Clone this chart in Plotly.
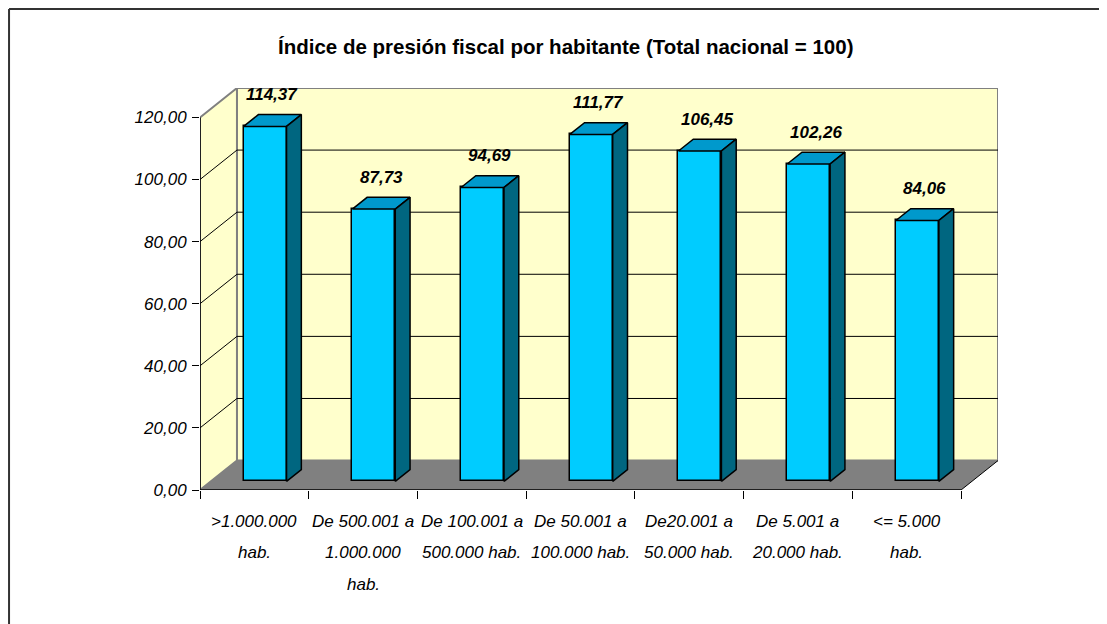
import plotly.graph_objects as go

# ---- data ----
categories = [
    [">1.000.000", "hab."],
    ["De 500.001 a", "1.000.000", "hab."],
    ["De 100.001 a", "500.000 hab."],
    ["De 50.001 a", "100.000 hab."],
    ["De20.001 a", "50.000 hab."],
    ["De 5.001 a", "20.000 hab."],
    ["<= 5.000", "hab."],
]
values = [114.37, 87.73, 94.69, 111.77, 106.45, 102.26, 84.06]
value_labels = ["114,37", "87,73", "94,69", "111,77", "106,45", "102,26", "84,06"]
y_ticks = [0, 20, 40, 60, 80, 100, 120]
title_text = "Índice de presión fiscal por habitante (Total nacional = 100)"

# ---- 3D-look geometry (in axis units) ----
N = len(values)
YMAX = 120
DX = 0.34      # depth offset along x (category units)
DY = 9.48      # depth offset along y (value units)
F0 = 0.29      # bar front position as fraction of depth
FD = 0.40      # bar depth as fraction of depth
BW = 0.395     # bar width (category units)

FONT = "Liberation Sans, Arial, sans-serif"
WALL = "#FFFFCC"
FLOOR = "#808080"
FRONT = "#00CCFF"
TOP = "#0099CC"
SIDE = "#006680"

fig = go.Figure()

shapes = []
# back wall
shapes.append(dict(type="path", xref="x", yref="y", layer="below",
                   path=f"M {DX},{DY} L {N+DX},{DY} L {N+DX},{YMAX+DY} L {DX},{YMAX+DY} Z",
                   fillcolor=WALL, line=dict(color="#808080", width=2)))
# left wall
shapes.append(dict(type="path", xref="x", yref="y", layer="below",
                   path=f"M 0,0 L {DX},{DY} L {DX},{YMAX+DY} L 0,{YMAX} Z",
                   fillcolor=WALL, line=dict(color="#808080", width=2)))
# floor
shapes.append(dict(type="path", xref="x", yref="y", layer="below",
                   path=f"M 0,0 L {N},0 L {N+DX},{DY} L {DX},{DY} Z",
                   fillcolor=FLOOR, line=dict(width=0)))
# gridlines on back & left walls
for v in y_ticks[1:-1]:
    shapes.append(dict(type="line", xref="x", yref="y", layer="below",
                       x0=DX, y0=v + DY, x1=N + DX, y1=v + DY,
                       line=dict(color="#000000", width=1)))
    shapes.append(dict(type="line", xref="x", yref="y", layer="below",
                       x0=0, y0=v, x1=DX, y1=v + DY,
                       line=dict(color="#000000", width=1)))
# floor right diagonal & front edge, y axis line
shapes.append(dict(type="line", xref="x", yref="y", layer="below",
                   x0=N, y0=0, x1=N + DX, y1=DY, line=dict(color="#000000", width=1)))
shapes.append(dict(type="line", xref="x", yref="y", layer="above",
                   x0=0, y0=0, x1=N, y1=0, line=dict(color="#000000", width=1.5)))
shapes.append(dict(type="line", xref="x", yref="y", layer="above",
                   x0=0, y0=0, x1=0, y1=YMAX, line=dict(color="#000000", width=1.5)))
# chart-area border (top and left, cropped)
shapes.append(dict(type="line", xref="paper", yref="paper",
                   x0=-0.2393, y0=1.1965, x1=1.2, y1=1.1965,
                   line=dict(color="#333333", width=2)))
shapes.append(dict(type="line", xref="paper", yref="paper",
                   x0=-0.2393, y0=1.1965, x1=-0.2393, y1=-0.4,
                   line=dict(color="#333333", width=2)))

# bar front faces
bx = [i + 0.5 + F0 * DX for i in range(N)]
fig.add_trace(go.Bar(x=bx, y=values, base=[F0 * DY] * N, width=BW,
                     marker=dict(color=FRONT, line=dict(color="#000000", width=1.5)),
                     hoverinfo="skip", showlegend=False))

# top and side faces
for i, v in enumerate(values):
    xl = bx[i] - BW / 2
    xr = bx[i] + BW / 2
    yb = F0 * DY
    yt = F0 * DY + v
    ddx = FD * DX
    ddy = FD * DY
    fig.add_trace(go.Scatter(
        x=[xl, xr, xr + ddx, xl + ddx, xl],
        y=[yt, yt, yt + ddy, yt + ddy, yt],
        mode="lines", fill="toself", fillcolor=TOP,
        line=dict(color="#000000", width=1.5), hoverinfo="skip", showlegend=False))
    fig.add_trace(go.Scatter(
        x=[xr, xr + ddx, xr + ddx, xr, xr],
        y=[yb, yb + ddy, yt + ddy, yt, yb],
        mode="lines", fill="toself", fillcolor=SIDE,
        line=dict(color="#000000", width=1.5), hoverinfo="skip", showlegend=False))

annotations = []
# value labels
for i, v in enumerate(values):
    annotations.append(dict(
        x=i + 0.5 + (F0 + FD / 2) * DX, y=v + (F0 + FD / 2) * DY,
        xref="x", yref="y", text=f"<b><i>{value_labels[i]}</i></b>",
        showarrow=False, yanchor="middle", yshift=26,
        font=dict(family=FONT, size=17, color="#000000")))
# category labels (one annotation per line for Excel-like line spacing)
for i, lines in enumerate(categories):
    for j, t in enumerate(lines):
        annotations.append(dict(
            x=i + 0.5, y=0, xref="x", yref="y", text=f"<i>{t}</i>",
            showarrow=False, yanchor="middle", yshift=-31 - 31.5 * j,
            font=dict(family=FONT, size=17, color="#000000")))
# title
annotations.append(dict(
    x=(565.5 - 200) / 798, y=(490 - 47) / 402, xref="paper", yref="paper",
    text=f"<b>{title_text}</b>", showarrow=False, xanchor="center", yanchor="middle",
    font=dict(family=FONT, size=20.5, color="#000000")))

fig.update_layout(
    width=1107, height=624,
    margin=dict(l=192, r=117, t=80, b=142),
    paper_bgcolor="white", plot_bgcolor="white",
    separators=",.",
    shapes=shapes, annotations=annotations,
    xaxis=dict(range=[0, N + DX], tickvals=list(range(N + 1)),
               ticktext=[""] * (N + 1), ticks="outside", ticklen=8,
               tickcolor="#000000", showgrid=False, zeroline=False, showline=False,
               fixedrange=True),
    yaxis=dict(range=[0, YMAX + DY], tickvals=y_ticks,
               ticktext=[f"<i>{v:.2f}</i>".replace(".", ",") for v in y_ticks],
               ticks="outside", ticklen=7, tickcolor="#000000",
               showgrid=False, zeroline=False, showline=False, fixedrange=True,
               tickfont=dict(family=FONT, size=17, color="#000000"),
               ticklabelstandoff=2),
    bargap=0,
)

fig.write_html("out.html")
